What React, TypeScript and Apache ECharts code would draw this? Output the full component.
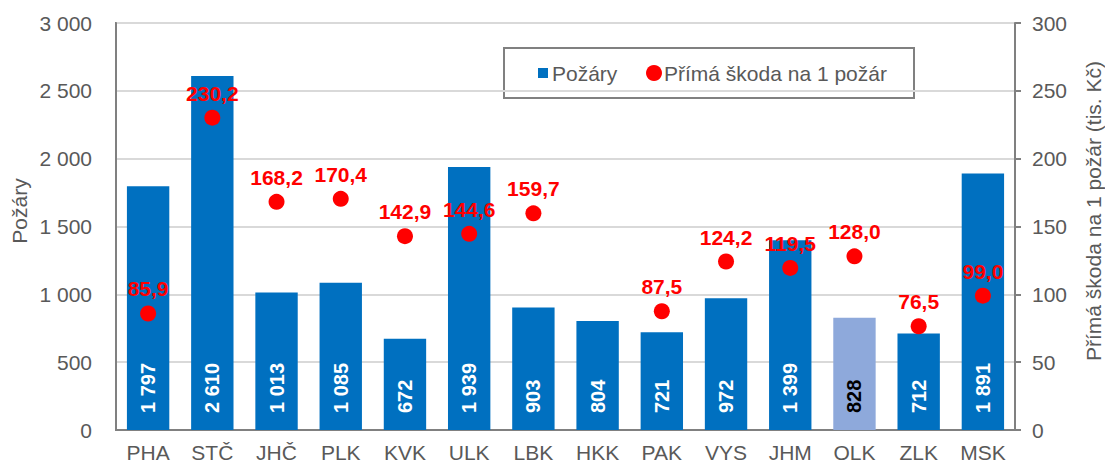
import React, { useEffect, useRef } from "react";
import * as echarts from "echarts";

const categories = ["PHA", "STČ", "JHČ", "PLK", "KVK", "ULK", "LBK", "HKK", "PAK", "VYS", "JHM", "OLK", "ZLK", "MSK"];
const fires = [1797, 2610, 1013, 1085, 672, 1939, 903, 804, 721, 972, 1399, 828, 712, 1891];
const damage: (number | null)[] = [85.9, 230.2, 168.2, 170.4, 142.9, 144.6, 159.7, null, 87.5, 124.2, 119.5, 128.0, 76.5, 99.0];
const highlighted = "OLK";
const leftName = "Požáry";
const rightName = "Přímá škoda na 1 požár (tis. Kč)";
const seriesNames = ["Požáry", "Přímá škoda na 1 požár"];

const FONT = "'Liberation Sans', Arial, sans-serif";
const GRAY = "#595959";

const fmtThousands = (v: number) => String(v).replace(/\B(?=(\d{3})+(?!\d))/g, " ");
const fmtDec = (v: number) => v.toFixed(1).replace(".", ",");

export default function App() {
  const ref = useRef<HTMLDivElement>(null);
  useEffect(() => {
    if (!ref.current) return;
    const chart = echarts.init(ref.current, null, { renderer: "svg" });
    chart.setOption({
      animation: false,
      textStyle: { fontFamily: FONT },
      grid: {
        left: 116, right: 90, top: 23, bottom: 33,
        show: true, borderColor: "#808080", borderWidth: 2, backgroundColor: "transparent",
      },
      legend: { show: false },
      graphic: [
        {
          type: "text", x: 19, y: 211, rotation: Math.PI / 2,
          style: { text: leftName, fill: GRAY, font: `21px ${FONT}`, align: "center", verticalAlign: "middle" },
        },
        {
          type: "text", x: 1093, y: 211, rotation: Math.PI / 2,
          style: { text: rightName, fill: GRAY, font: `21px ${FONT}`, align: "center", verticalAlign: "middle" },
        },
        {
          type: "group", left: 503, top: 47,
          children: [
            { type: "rect", shape: { x: 0, y: 0, width: 410, height: 50 }, style: { fill: "#fff", stroke: "#808080", lineWidth: 2 } },
            { type: "rect", shape: { x: 34, y: 20, width: 10, height: 10 }, style: { fill: "#0070C0" } },
            { type: "text", x: 48, y: 25, style: { text: seriesNames[0], fill: GRAY, font: `21px ${FONT}`, verticalAlign: "middle" } },
            { type: "circle", shape: { cx: 150, cy: 25, r: 8 }, style: { fill: "#FF0000" } },
            { type: "text", x: 160, y: 25, style: { text: seriesNames[1], fill: GRAY, font: `21px ${FONT}`, verticalAlign: "middle" } },
          ],
        },
      ],
      xAxis: {
        type: "category",
        data: categories,
        axisLine: { lineStyle: { color: "#808080", width: 2 } },
        axisTick: { show: false },
        axisLabel: { color: GRAY, fontSize: 21, fontFamily: FONT, margin: 12 },
      },
      yAxis: [
        {
          type: "value", min: 0, max: 3000, interval: 500,
          axisLine: { show: true, lineStyle: { color: "#808080", width: 2 } },
          axisTick: { show: false },
          axisLabel: { color: GRAY, fontSize: 21, fontFamily: FONT, margin: 24, formatter: (v: number) => fmtThousands(v) },
          splitLine: { lineStyle: { color: "#D9D9D9", width: 2 } },
        },
        {
          type: "value", min: 0, max: 300, interval: 50, position: "right",
          axisLine: { show: true, lineStyle: { color: "#808080", width: 2 } },
          axisTick: { show: true, length: 6, lineStyle: { color: "#808080", width: 2 } },
          axisLabel: { color: GRAY, fontSize: 21, fontFamily: FONT, margin: 17 },
          splitLine: { show: false },
        },
      ],
      series: [
        {
          name: seriesNames[0],
          type: "bar",
          yAxisIndex: 0,
          barCategoryGap: "34%",
          data: fires.map((v, i) => {
            const hl = categories[i] === highlighted;
            return {
              value: v,
              itemStyle: { color: hl ? "#8EA9DB" : "#0070C0" },
              label: { color: hl ? "#000000" : "#FFFFFF" },
            };
          }),
          label: {
            show: true, position: "insideBottom", rotate: 90, align: "left", verticalAlign: "middle",
            distance: 17, fontSize: 20, fontWeight: "bold", fontFamily: FONT,
            formatter: (p: any) => fmtThousands(p.value),
          },
          z: 2,
        },
        {
          name: seriesNames[1],
          type: "scatter",
          yAxisIndex: 1,
          symbol: "circle",
          symbolSize: 16,
          itemStyle: { color: "#FF0000", opacity: 1 },
          data: damage.map((v) => (v === null ? "-" : v)),
          label: {
            show: true, position: "top", distance: 6, color: "#FF0000",
            fontSize: 21, fontWeight: "bold", fontFamily: FONT,
            formatter: (p: any) => fmtDec(p.value),
          },
          z: 3,
        },
      ],
    });
    return () => chart.dispose();
  }, []);
  return <div ref={ref} style={{ width: 1105, height: 463, position: "absolute", left: 0, top: 0 }} />;
}
